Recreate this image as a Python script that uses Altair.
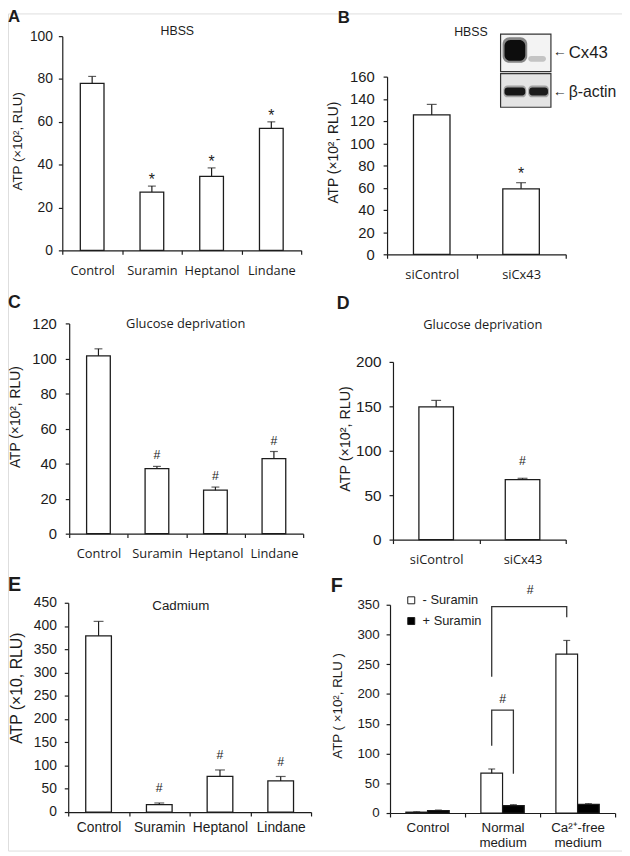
import altair as alt
import pandas as pd

OFF = 8            # page margin
W, H = 622, 848    # whole drawing area
INK = "#1c1c1c"
SANS = "Liberation Sans"
CAL = "Open Sans"

# ---------------- data ----------------
a_cats = ["Control", "Suramin", "Heptanol", "Lindane"]
a_vals = [78, 27.2, 34.5, 57]
a_errs = [3.2, 2.8, 4.0, 3.0]
a_sig = ["", "*", "*", "*"]

b_cats = ["siControl", "siCx43"]
b_vals = [125.5, 59]
b_errs = [9.5, 5.5]
b_sig = ["", "*"]

c_cats = ["Control", "Suramin", "Heptanol", "Lindane"]
c_vals = [101.5, 37.1, 24.8, 42.8]
c_errs = [4.0, 1.3, 1.8, 4.1]
c_sig = ["", "#", "#", "#"]

d_cats = ["siControl", "siCx43"]
d_vals = [149.3, 67.5]
d_errs = [7.4, 1.5]
d_sig = ["", "#"]

e_cats = ["Control", "Suramin", "Heptanol", "Lindane"]
e_vals = [379, 16, 76.5, 67]
e_errs = [31, 3.5, 14, 9.5]
e_sig = ["", "#", "#", "#"]

f_groups = ["Control", "Normal|medium", "Ca²⁺-free|medium"]
f_series = ["- Suramin", "+ Suramin"]
f_minus = [1.5, 67, 267]
f_minus_err = [0.5, 7, 23]
f_plus = [4.2, 12.5, 14.5]
f_plus_err = [0.8, 1.5, 1.2]

# significance brackets in panel F
br_id = [1, 1, 1, 1, 2, 2, 2, 2]
br_group = ["Normal|medium"] * 6 + ["Ca²⁺-free|medium"] * 2
br_series = ["- Suramin", "- Suramin", "+ Suramin", "+ Suramin",
             "- Suramin", "- Suramin", "- Suramin", "- Suramin"]
br_y = [113, 173, 173, 66, 229, 347, 347, 329]
br_lab_group = ["Normal|medium", "Ca²⁺-free|medium"]
br_lab_y = [192, 375]


def axis_common():
    return dict(tickSize=4, tickColor=INK, tickWidth=1.2, domainColor=INK,
                domainWidth=1.2, grid=False, labelColor=INK, labelOverlap=False)


def x_axis(y0, font, fs, pad, expr=None):
    kw = dict(orient="bottom", offset=(y0 - OFF) - H, title=None, labelAngle=0,
              tickBand="extent", labelFont=font, labelFontSize=fs, labelPadding=pad,
              **axis_common())
    if expr:
        kw.update(labelExpr=expr, labelLineHeight=15)
    return alt.Axis(**kw)


def y_axis(x0, vals, fs, pad, title, tfs, tx, ty):
    return alt.Axis(orient="left", offset=-(x0 - OFF), values=vals, title=title,
                    titleX=tx, titleY=ty - OFF, titleFont=SANS, titleFontSize=tfs,
                    titleFontWeight="normal", titleColor=INK, titleBaseline="bottom",
                    titleAlign="center", labelFont=SANS, labelFontSize=fs,
                    labelPadding=pad, labelFlush=False, **axis_common())


def panel(cats, vals, errs, sig, ax, ymax, ystep, bar_w, cap_w, ytitle,
          tick_fs, tick_pad, tfs, tx, ty, xfont, xfs, xpad, sig_fs, sig_dy):
    x0, x1, y0, y1 = ax
    df = pd.DataFrame({"cat": cats, "val": vals,
                       "top": [v + e for v, e in zip(vals, errs)], "sig": sig})
    x = alt.X("cat:N", sort=cats,
              scale=alt.Scale(domain=cats, range=[x0 - OFF, x1 - OFF],
                              paddingInner=0, paddingOuter=0),
              axis=x_axis(y0, xfont, xfs, xpad))
    y = alt.Y("val:Q",
              scale=alt.Scale(domain=[0, ymax], range=[y0 - OFF, y1 - OFF], nice=False),
              axis=y_axis(x0, list(range(0, ymax + 1, ystep)), tick_fs, tick_pad,
                          ytitle, tfs, tx, ty))
    base = alt.Chart(df)
    bars = base.mark_bar(size=bar_w, fill="white", stroke=INK, strokeWidth=1.3).encode(x=x, y=y)
    err = base.mark_rule(color=INK, strokeWidth=1.2).encode(x=x, y="val:Q", y2="top:Q")
    cap = base.mark_tick(color=INK, size=cap_w, thickness=1.2).encode(x=x, y="top:Q")
    sigs = base.mark_text(font=SANS, fontSize=sig_fs, baseline="alphabetic", dy=sig_dy,
                          color=INK).encode(x=x, y="top:Q", text="sig:N")
    return alt.layer(bars, err, cap, sigs)


def label(text, x, y, size, font=SANS, weight="normal", align="center", baseline="middle"):
    return alt.Chart(pd.DataFrame({"t": [text]})).mark_text(
        font=font, fontSize=size, fontWeight=weight, align=align, baseline=baseline,
        color=INK).encode(x=alt.value(x - OFF), y=alt.value(y - OFF), text="t:N")


def box(x0, x1, y0, y1, fill, stroke=None, radius=0, opacity=1.0):
    kw = dict(fill=fill, cornerRadius=radius, opacity=opacity)
    if stroke:
        kw.update(stroke=stroke, strokeWidth=1.2)
    return alt.Chart(pd.DataFrame({"t": [0]})).mark_rect(**kw).encode(
        x=alt.value(x0 - OFF), x2=alt.value(x1 - OFF),
        y=alt.value(y0 - OFF), y2=alt.value(y1 - OFF))


ATP2 = "ATP (×10², RLU)"

pA = panel(a_cats, a_vals, a_errs, a_sig, (63, 305, 248, 31), 100, 20, 24, 8, ATP2,
           14, 6, 13.5, -38, 137, CAL, 13, 10, 16, -1)
pB = panel(b_cats, b_vals, b_errs, b_sig, (392, 573, 252, 72), 160, 20, 37, 10, ATP2,
           15, 9, 14, -47, 148.5, CAL, 13, 10, 16, -4)
pC = panel(c_cats, c_vals, c_errs, c_sig, (70, 307, 535, 322), 120, 20, 24, 8, ATP2,
           15, 9, 14, -47, 416.5, CAL, 13, 10, 12.5, -7)
pD = panel(d_cats, d_vals, d_errs, d_sig, (398, 573, 541, 361), 200, 50, 35, 10, ATP2,
           15.5, 8, 14.5, -41, 438.5, CAL, 13, 10, 12.5, -13)
pE = panel(e_cats, e_vals, e_errs, e_sig, (69, 315, 817, 605), 450, 50, 26, 10,
           "ATP (×10, RLU)", 14, 8, 16, -44, 691, SANS, 14, 5, 12.5, -11)

# ---------------- panel F ----------------
fx0, fx1, fy0, fy1 = 395, 623, 818, 607
fdf = pd.DataFrame({
    "grp": f_groups * 2,
    "ser": [f_series[0]] * 3 + [f_series[1]] * 3,
    "val": f_minus + f_plus,
    "top": [v + e for v, e in zip(f_minus + f_plus, f_minus_err + f_plus_err)],
})
fX = alt.X("grp:N", sort=f_groups,
           scale=alt.Scale(domain=f_groups, range=[fx0 - OFF, fx1 - OFF],
                           paddingInner=0, paddingOuter=0),
           axis=x_axis(fy0, SANS, 13.5, 4, "split(datum.label, '|')"))
fXO = alt.XOffset("ser:N", sort=f_series,
                  scale=alt.Scale(domain=f_series, paddingInner=0, paddingOuter=0.73))
fY = alt.Y("val:Q", scale=alt.Scale(domain=[0, 350], range=[fy0 - OFF, fy1 - OFF], nice=False),
           axis=y_axis(fx0, list(range(0, 351, 50)), 13.5, 7, "ATP ( ×10², RLU )",
                       13.5, -46, 709))
fbase = alt.Chart(fdf)
f_bars = fbase.mark_bar(stroke=INK, strokeWidth=1.2).encode(
    x=fX, xOffset=fXO, y=fY,
    color=alt.Color("ser:N", sort=f_series,
                    scale=alt.Scale(domain=f_series, range=["white", "black"]),
                    legend=alt.Legend(orient="none", legendX=402, legendY=588, title=None,
                                      symbolType="square", symbolSize=50,
                                      symbolStrokeColor=INK, symbolStrokeWidth=1,
                                      labelFont=SANS, labelFontSize=13, labelColor=INK,
                                      rowPadding=7, labelOffset=5, padding=0)))
f_err = fbase.mark_rule(color=INK, strokeWidth=1.2).encode(x=fX, xOffset=fXO, y="val:Q", y2="top:Q")
f_cap = fbase.mark_tick(color=INK, size=7, thickness=1.2).encode(x=fX, xOffset=fXO, y="top:Q")

brdf = pd.DataFrame({"id": br_id, "grp": br_group, "ser": br_series, "y": br_y,
                     "i": list(range(len(br_y)))})
f_br = alt.Chart(brdf).mark_line(color="#333333", strokeWidth=1.3).encode(
    x=fX, xOffset=fXO, y="y:Q", detail="id:N", order="i:Q")
f_lab1 = alt.Chart(pd.DataFrame({"grp": [br_lab_group[0]], "y": [br_lab_y[0]], "t": ["#"]})).mark_text(
    font=SANS, fontSize=12.5, color=INK, baseline="middle").encode(x=fX, y="y:Q", text="t:N")
f_lab2 = alt.Chart(pd.DataFrame({"grp": [br_lab_group[1]], "ser": [f_series[0]],
                                 "y": [br_lab_y[1]], "t": ["#"]})).mark_text(
    font=SANS, fontSize=12.5, color=INK, baseline="middle", dx=-37).encode(
    x=fX, xOffset=fXO, y="y:Q", text="t:N")
pF = alt.layer(f_bars, f_err, f_cap, f_br, f_lab1, f_lab2)

# ---------------- annotations ----------------
notes = [
    label("A", 8, 12, 17, weight="bold", align="left"),
    label("B", 342, 12.5, 17, weight="bold", align="left"),
    label("C", 8, 301.5, 18, weight="bold", align="left"),
    label("D", 341, 302, 18, weight="bold", align="left"),
    label("E", 8, 587.5, 20, weight="bold", align="left"),
    label("F", 335, 588.5, 20, weight="bold", align="left"),
    label("HBSS", 179.5, 25.5, 12.5),
    label("HBSS", 477, 27, 12.5),
    label("Glucose deprivation", 188, 323, 13, font=CAL),
    label("Glucose deprivation", 489, 324, 13, font=CAL),
    label("Cadmium", 183, 608, 13.5),
    # western blot inset (image stand-in)
    box(507, 558, 29, 67, "#f3f3f3", stroke="#333333"),
    box(507, 558, 69, 103, "#e4e4e4", stroke="#333333"),
    box(509, 534, 32, 58, "#555555", radius=7, opacity=0.7),
    box(511, 532, 35, 56, "#0d0d0d", radius=6),
    box(535, 553, 51, 57, "#c4c4c4", radius=3),
    box(510, 533, 81, 93, "#777777", radius=4, opacity=0.6),
    box(511, 532, 83, 91, "#161616", radius=3),
    box(535, 556, 81, 93, "#777777", radius=4, opacity=0.6),
    box(536, 555, 83, 91, "#1c1c1c", radius=3),
    label("←", 560, 47, 14, weight="bold", align="left"),
    label("←", 560, 88, 14, weight="bold", align="left"),
    label("Cx43", 576, 48, 17, align="left"),
    label("β-actin", 576, 88, 16, align="left"),
]

chart = alt.layer(pA, pB, pC, pD, pE, pF, *notes).resolve_scale(
    x="independent", y="independent"
).resolve_axis(
    x="independent", y="independent"
).properties(
    width=W, height=H, padding=0, autosize=alt.AutoSizeParams(type="none")
).configure_view(stroke=None).configure(background="white")

chart.save("out.html", embed_options={"renderer": "svg", "actions": False})
